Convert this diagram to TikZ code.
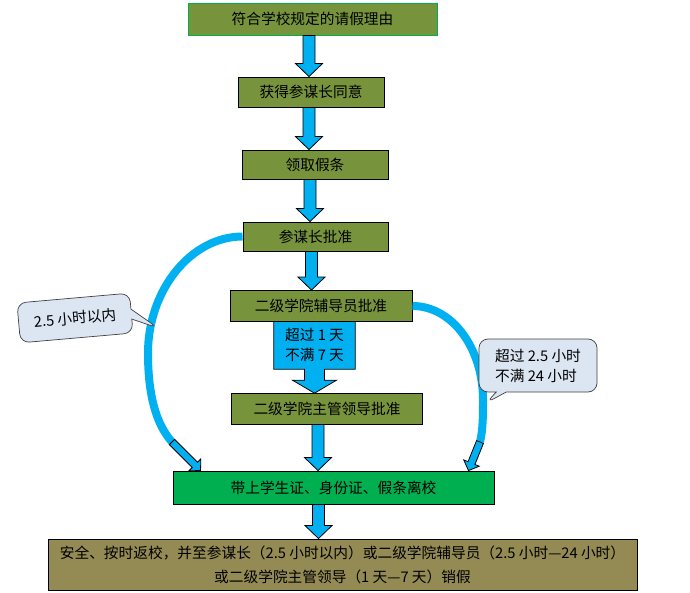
\documentclass[tikz,border=0pt]{standalone}
\usepackage{fontspec}
\setmainfont{Noto Sans CJK SC}
\usepackage{xcolor}
\usepackage{tikz}
\usetikzlibrary{calc,shapes.callouts,backgrounds}
\definecolor{olivegreen}{RGB}{119,147,60}
\definecolor{brightgreen}{RGB}{0,176,80}
\definecolor{khaki}{RGB}{148,138,84}
\definecolor{skyblue}{RGB}{0,176,240}
\definecolor{paleblue}{RGB}{220,230,242}
\tikzset{
  box/.style={rectangle, draw=black, line width=0.9pt, fill=olivegreen, align=center, inner sep=0pt},
  startbox/.style={box, draw=brightgreen},
  gobox/.style={box, fill=brightgreen},
  endbox/.style={box, fill=khaki},
  bubble/.style={rectangle callout, rounded corners=9pt, draw=black!75, line width=0.7pt, fill=paleblue, align=left, inner sep=0pt, callout pointer width=10pt},
  blk/.style={draw=black, line width=0.8pt, fill=skyblue},
  detour/.style={draw=skyblue, line width=8pt}
}
\newcommand{\blkarrow}[3][1]{%
  \coordinate (ba) at (#2); \coordinate (bt) at (#3);
  \coordinate (bh) at ($(bt)!#1*13pt!(ba)$);
  \draw[blk] ($(ba)!#1*6pt!90:(bt)$) -- ($(bh)!#1*6pt!90:(bt)$) -- ($(bh)!#1*13.5pt!90:(bt)$) -- (bt)
    -- ($(bh)!#1*13.5pt!-90:(bt)$) -- ($(bh)!#1*6pt!-90:(bt)$) -- ($(ba)!#1*6pt!-90:(bt)$) -- cycle;}

\begin{document}
\begin{tikzpicture}[x=1pt, y=-1pt, font=\fontsize{14.7}{20}\selectfont]
\useasboundingbox (0,0) rectangle (690,593);
\node[startbox, minimum width=249pt, minimum height=32pt] (reason) at (312.5,19) {符合学校规定的请假理由};
\node[box, minimum width=146pt, minimum height=30pt] (agree) at (311,92) {获得参谋长同意};
\node[box, minimum width=146pt, minimum height=29pt] (slip) at (315,164.5) {领取假条};
\node[box, minimum width=145pt, minimum height=29pt] (chief) at (315.5,236.5) {参谋长批准};
\node[box, minimum width=182pt, minimum height=31pt] (tutor) at (321,306) {二级学院辅导员批准};
\node[align=center, minimum width=81pt, minimum height=48pt, inner sep=0pt] (days) at (314.5,345) {超过 1 天\\不满 7 天};
\node[box, minimum width=191pt, minimum height=31pt] (leader) at (327,408.5) {二级学院主管领导批准};
\node[gobox, minimum width=321pt, minimum height=33pt] (leave) at (333.5,487.5) {带上学生证、身份证、假条离校};
\node[endbox, minimum width=589pt, minimum height=51pt, font=\fontsize{14.7}{24}\selectfont] (back) at (342.5,564.5) {安全、按时返校，并至参谋长（2.5 小时以内）或二级学院辅导员（2.5 小时—24 小时）\\或二级学院主管领导（1 天—7 天）销假};
\begin{scope}[on background layer]
\draw[blk] (days.north west) -- (days.south west) -- ($(days.south)+(-10,0)$) -- ($(days.south)+(-10,11)$) -- ($(days.south)+(-22,11)$) -- ($(days.south)+(0,24)$)
  -- ($(days.south)+(22,11)$) -- ($(days.south)+(10,11)$) -- ($(days.south)+(10,0)$) -- (days.south east) -- (days.north east) -- cycle;
\end{scope}
\blkarrow{[xshift=-3.5pt]reason.south}{[xshift=-2pt]agree.north}
\blkarrow{[xshift=-2pt]agree.south}{[xshift=-6pt]slip.north}
\blkarrow{[xshift=-5pt]slip.south}{[xshift=-5.5pt]chief.north}
\blkarrow{[xshift=-4pt]chief.south}{[xshift=-9.5pt]tutor.north}
\blkarrow{[xshift=-9pt]leader.south}{[xshift=-15.5pt]leave.north}
\blkarrow{[xshift=-15pt]leave.south}{[xshift=-24pt]back.north}
\coordinate (lc) at (172,442); \coordinate (rc) at (480,442);
\draw[detour] (chief.west) .. controls (191,236.5) and (148,290) .. (148,353) .. controls (148,395) and (156,424) .. (lc);
\draw[detour] (tutor.east) .. controls (452,306) and (483,348) .. (483,400) .. controls (483,415) and (483,430) .. (rc);
\blkarrow[0.62]{lc}{[xshift=28pt]leave.north west}
\blkarrow[0.62]{rc}{[xshift=-26pt]leave.north east}
\node[bubble, rotate=5, minimum width=113pt, minimum height=40pt, callout absolute pointer={(158,328)}] (within) at (75,318) {2.5 小时以内};
\node[bubble, minimum width=118pt, minimum height=53pt, callout absolute pointer={(486,403)}] (over) at (538,365.5) {超过 2.5 小时\\不满 24 小时};
\end{tikzpicture}
\end{document}
